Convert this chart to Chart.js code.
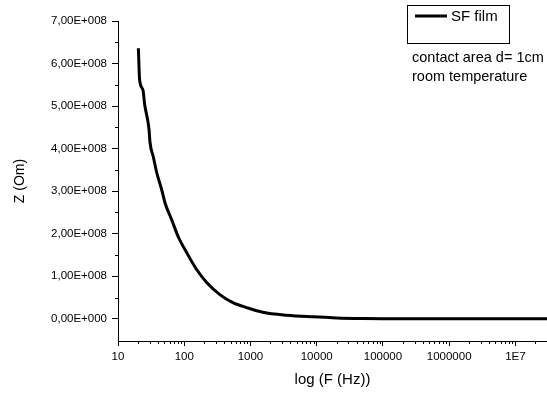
<!DOCTYPE html>
<html><head><meta charset="utf-8">
<script src="https://cdn.jsdelivr.net/npm/chart.js@4/dist/chart.umd.min.js"></script>
<style>html,body{margin:0;padding:0;background:#fff}canvas{display:block}</style>
</head><body>
<canvas id="c" width="547" height="394"></canvas>
<script>
// ---- data ----
const frequencyHz = [20.3, 21.2, 23.8, 25.3, 26.7, 28.0, 29.4, 30.4, 34.1, 38.4, 45.6, 51.2, 64.6, 81.2, 108.6, 153.8, 220, 345, 543, 874, 1538, 3506, 8730, 19900, 50000, 100000, 1000000, 10000000, 30000000];
const impedanceOm = [6.36e8, 5.62e8, 5.38e8, 5.03e8, 4.84e8, 4.68e8, 4.45e8, 4.15e8, 3.81e8, 3.44e8, 3.04e8, 2.73e8, 2.33e8, 1.93e8, 1.56e8, 1.16e8, 0.85e8, 0.57e8, 0.38e8, 0.265e8, 0.155e8, 0.085e8, 0.047e8, 0.023e8, 0.010e8, 0.005e8, 0.001e8, 0, 0];
const xTickValues = [10, 100, 1000, 10000, 100000, 1000000, 10000000];
const xTickLabels = ['10', '100', '1000', '10000', '100000', '1000000', '1E7'];
const yTickValues = [0, 1e8, 2e8, 3e8, 4e8, 5e8, 6e8, 7e8];
const yTickLabels = ['0,00E+000', '1,00E+008', '2,00E+008', '3,00E+008', '4,00E+008', '5,00E+008', '6,00E+008', '7,00E+008'];
const seriesName = 'SF film';
const noteLines = ['contact area d= 1cm', 'room temperature'];
const xTitle = 'log (F (Hz))';
const yTitle = 'Z (Om)';

const FONT = "'Liberation Sans', Arial, sans-serif";
Chart.defaults.font.family = FONT;
Chart.defaults.color = '#000';

const decor = {
  id: 'decor',
  afterDraw(chart) {
    const ctx = chart.ctx, xs = chart.scales.x, ys = chart.scales.y;
    ctx.save();
    ctx.strokeStyle = '#000';
    ctx.lineWidth = 1;
    // minor ticks on log x axis
    for (let e = 1; e < 8; e++) {
      for (let m = 2; m <= 9; m++) {
        const v = m * Math.pow(10, e);
        if (v <= xs.min || v >= xs.max) continue;
        const px = Math.round(xs.getPixelForValue(v)) + 0.5;
        ctx.beginPath(); ctx.moveTo(px, xs.top); ctx.lineTo(px, xs.top + 3); ctx.stroke();
      }
    }
    // minor ticks on y axis
    for (let i = 0; i < yTickValues.length - 1; i++) {
      const v = (yTickValues[i] + yTickValues[i + 1]) / 2;
      const py = Math.round(ys.getPixelForValue(v)) + 0.5;
      ctx.beginPath(); ctx.moveTo(ys.right - 3, py); ctx.lineTo(ys.right, py); ctx.stroke();
    }
    // legend box
    ctx.strokeRect(407.5, 5.5, 102, 38);
    ctx.lineWidth = 3;
    ctx.beginPath(); ctx.moveTo(415, 16); ctx.lineTo(447, 16); ctx.stroke();
    ctx.fillStyle = '#000';
    ctx.textBaseline = 'middle';
    ctx.textAlign = 'left';
    ctx.font = '15px ' + FONT;
    ctx.fillText(seriesName, 451, 16.5);
    ctx.font = '14.5px ' + FONT;
    ctx.fillText(noteLines[0], 412, 57.5);
    ctx.fillText(noteLines[1], 412, 76.5);
    ctx.restore();
  }
};

new Chart(document.getElementById('c'), {
  type: 'line',
  data: {
    datasets: [{
      label: seriesName,
      data: frequencyHz.map((f, i) => ({ x: f, y: impedanceOm[i] })),
      borderColor: '#000',
      backgroundColor: '#000',
      borderWidth: 3,
      pointRadius: 0,
      cubicInterpolationMode: 'monotone',
      borderJoinStyle: 'round',
      fill: false
    }]
  },
  options: {
    responsive: false,
    animation: false,
    devicePixelRatio: 1,
    layout: { padding: { top: 21, left: 0, right: 0, bottom: 0 } },
    plugins: { legend: { display: false }, tooltip: { enabled: false } },
    scales: {
      x: {
        type: 'logarithmic',
        min: 10,
        max: 3e7,
        afterBuildTicks: s => { s.ticks = xTickValues.map(v => ({ value: v })); },
        afterFit: s => { s.height = 53; },
        ticks: {
          callback: (v, i) => xTickLabels[i],
          font: { size: 11.5 },
          color: '#000',
          padding: 4,
          maxRotation: 0,
          autoSkip: false
        },
        grid: { display: true, drawOnChartArea: false, drawTicks: true, tickLength: 5, color: '#000', lineWidth: 1 },
        border: { display: true, color: '#000', width: 1 },
        title: { display: true, text: xTitle, font: { size: 15 }, color: '#000', padding: { top: 0, bottom: 5 } }
      },
      y: {
        type: 'linear',
        min: -0.52e8,
        max: 7e8,
        afterBuildTicks: s => { s.ticks = yTickValues.map(v => ({ value: v })); },
        afterFit: s => { s.width = 118; },
        ticks: {
          callback: (v, i) => yTickLabels[i],
          font: { size: 11.5 },
          color: '#000',
          padding: 5,
          autoSkip: false
        },
        grid: { display: true, drawOnChartArea: false, drawTicks: true, tickLength: 6, color: '#000', lineWidth: 1 },
        border: { display: true, color: '#000', width: 1 },
        title: { display: true, text: yTitle, font: { size: 14 }, color: '#000', padding: { top: 12, bottom: 0 } }
      }
    }
  },
  plugins: [decor]
});
</script>
</body></html>
